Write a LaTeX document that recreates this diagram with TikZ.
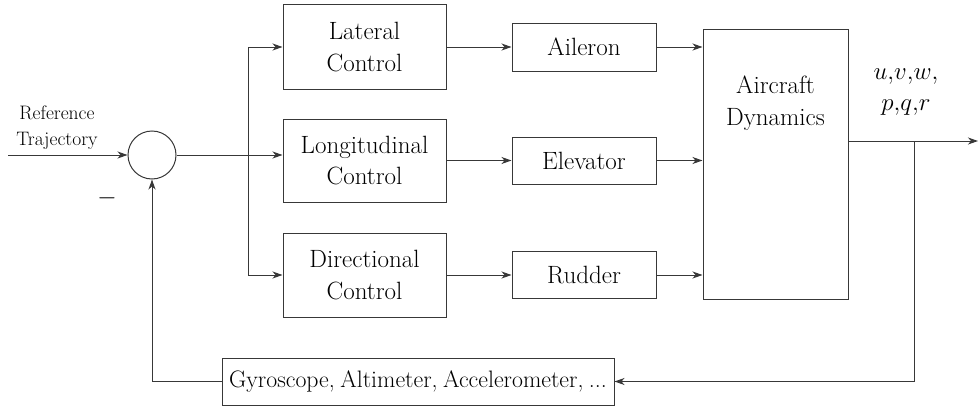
\documentclass[tikz,border=0pt]{standalone}
\usetikzlibrary{arrows.meta,calc}
\begin{document}
\begin{tikzpicture}[x=1pt,y=-1pt,
  line width=1pt,
  ln/.style={draw=black!78},
  blk/.style={draw=black!78, rectangle, inner sep=0pt, align=center,
    font=\fontsize{25}{31.5}\selectfont},
  lbl/.style={inner sep=0pt, align=center, font=\fontsize{25}{31.5}\selectfont},
  small/.style={inner sep=0pt, align=center, font=\fontsize{19.5}{26}\selectfont},
  arr/.style={ln, -{Stealth[length=10pt,width=7pt,inset=3pt]}}]
\useasboundingbox (0,0) rectangle (978,407);
% summing junction
\node[draw=black!78, circle, minimum size=48pt, inner sep=0pt] (sum) at (152,155) {};
% controllers
\node[blk, minimum width=163pt, minimum height=84.5pt] (lat) at (364.5,47) {Lateral\\Control};
\node[blk, minimum width=163pt, minimum height=83pt] (lon) at (364.5,160.5) {Longitudinal\\Control};
\node[blk, minimum width=163pt, minimum height=84pt] (dir) at (364.5,275) {Directional\\Control};
% actuators
\node[blk, minimum width=144pt, minimum height=48pt] (ail) at (584,47) {Aileron};
\node[blk, minimum width=144pt, minimum height=47pt] (ele) at (584,160.5) {Elevator};
\node[blk, minimum width=144pt, minimum height=47pt] (rud) at (584,275) {Rudder};
% aircraft
\node[blk, minimum width=145pt, minimum height=270pt] (air) at (775.5,164) {};
\node[lbl] (airtxt) at (775.5,103) {Aircraft\\Dynamics};
% sensors
\node[blk, minimum width=392pt, minimum height=47pt,
  font=\fontsize{23.8}{31.5}\selectfont] (sen) at (418,381.5)
  {\spaceskip=5.5pt plus 1pt minus 1pt\relax Gyroscope, Altimeter, Accelerometer, ...};
% labels
\node[small] (ref) at (57,128) {Reference\\Trajectory};
\node[lbl] (states) at (906,92) {$u{,}v{,}w{,}$\\$p{,}q{,}r$};
\node[inner sep=0pt, font=\fontsize{25}{31.5}\selectfont] (minus) at (107,198) {$-$};
% coordinates
\coordinate (in) at (8,155);
\coordinate (split) at (248,155);
\coordinate (out) at (978,141);
\coordinate (tap) at (914,141);
% connectors
\draw[arr] (in) -- (sum.west);
\draw[arr] (sum.east) -- (sum.east -| lon.west);
\draw[arr] (split) |- (lat.west);
\draw[arr] (split) |- (dir.west);
\draw[arr] (lat.east) -- (ail.west);
\draw[arr] (lon.east) -- (ele.west);
\draw[arr] (dir.east) -- (rud.west);
\draw[arr] (ail.east) -- (ail.east -| air.west);
\draw[arr] (ele.east) -- (ele.east -| air.west);
\draw[arr] (rud.east) -- (rud.east -| air.west);
\draw[arr] (out -| air.east) -- (out);
\draw[arr] (tap) |- (sen.east);
\draw[arr] (sen.west) -| (sum.south);
\end{tikzpicture}
\end{document}
